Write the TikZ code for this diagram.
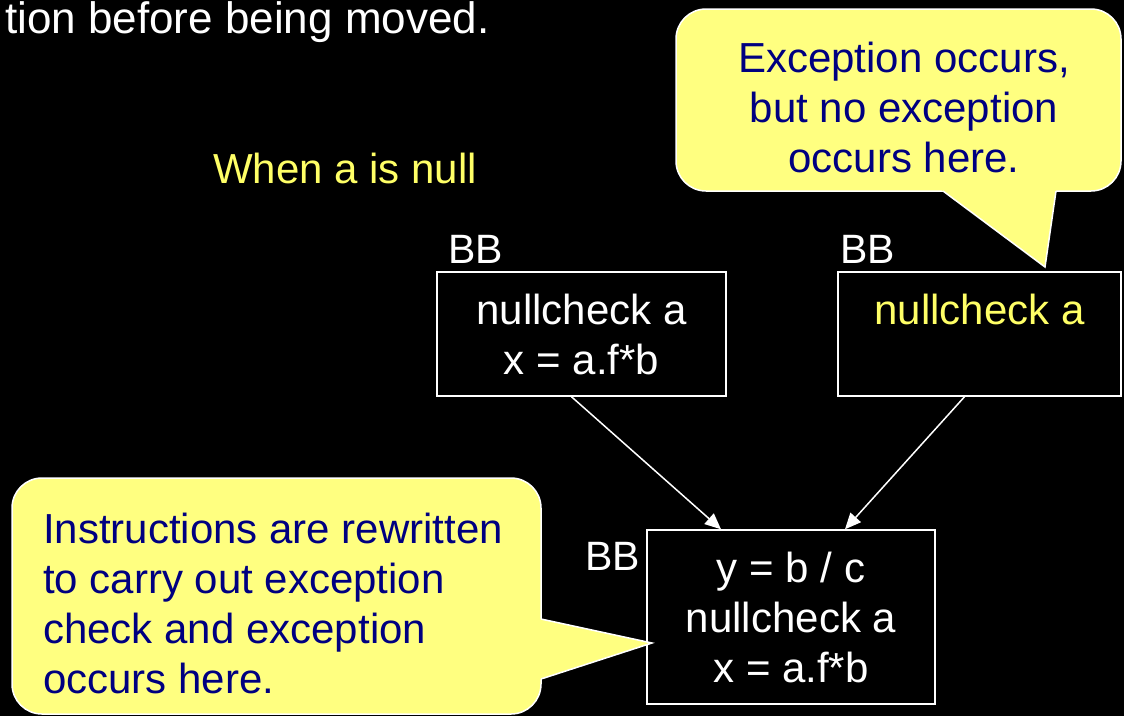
\documentclass[tikz,border=0pt]{standalone}
\usepackage{fontspec}
\setmainfont{Liberation Sans}
\usetikzlibrary{arrows.meta}
\definecolor{callfill}{RGB}{255,255,128}
\definecolor{navy}{RGB}{0,0,128}
\definecolor{ytext}{RGB}{255,255,102}
\begin{document}
\begin{tikzpicture}[x=1pt,y=-1pt,
  big/.style={font=\fontsize{42}{50}\selectfont},
  bbox/.style={draw=white, line width=1.5pt, inner sep=0pt, text=white, align=center, big},
  bblabel/.style={text=white, inner sep=0pt, anchor=base west, font=\fontsize{41}{49}\selectfont},
  conn/.style={draw=white, line width=1.5pt, -{Triangle[length=16pt,width=14pt]}},
  callshape/.style={fill=callfill, draw=white, line width=1.5pt},
  calltext/.style={text=navy, inner sep=0pt, big},
]
\fill[black] (0,0) rectangle (1124,716);
\useasboundingbox (0,0) rectangle (1124,716);

\node[text=white, inner sep=0pt, anchor=base west, font=\fontsize{44}{52}\selectfont] (top) at (5,33) {tion before being moved.};
\node[text=ytext, inner sep=0pt, anchor=base west, big] (when) at (213,183) {When a is null};

\node[bbox, minimum width=289pt, minimum height=124pt] (b1) at (581.5,334) {nullcheck a\\x = a.f*b};
\node[bbox, text=ytext, minimum width=283pt, minimum height=124pt] (b2) at (979.5,334) {nullcheck a\\\phantom{x}};
\node[bbox, minimum width=288pt, minimum height=174pt] (b3) at (791,617) {y = b / c\\nullcheck a\\x = a.f*b};

\node[bblabel] (l1) at (448,263) {BB};
\node[bblabel] (l2) at (840,263) {BB};
\node[bblabel] (l3) at (585,570) {BB};

\draw[conn] ([xshift=-10pt]b1.south) -- ([xshift=-70pt]b3.north);
\draw[conn] ([xshift=-15pt]b2.south) -- ([xshift=54pt]b3.north);

% top-right callout
\draw[callshape, rounded corners=30pt] (676,9) rectangle (1121,191);
\fill[callfill] (937.6,187) -- (1045,267) -- (1056.6,187) -- cycle;
\draw[white, line width=1.5pt] (943,191) -- (1045,267) -- (1056,191);
\node[calltext, align=center, anchor=north] (c1) at (904,42) {Exception occurs,\\but no exception\\occurs here.};

% bottom-left callout
\draw[callshape, rounded corners=30pt] (12,478) rectangle (541,714);
\fill[callfill] (537,618.1) -- (652,643) -- (537,680.3) -- cycle;
\draw[white, line width=1.5pt] (541,619) -- (652,643) -- (541,679);
\node[calltext, align=left, anchor=north west] (c2) at (43,513) {Instructions are rewritten\\to carry out exception\\check and exception\\occurs here.};
\end{tikzpicture}
\end{document}
